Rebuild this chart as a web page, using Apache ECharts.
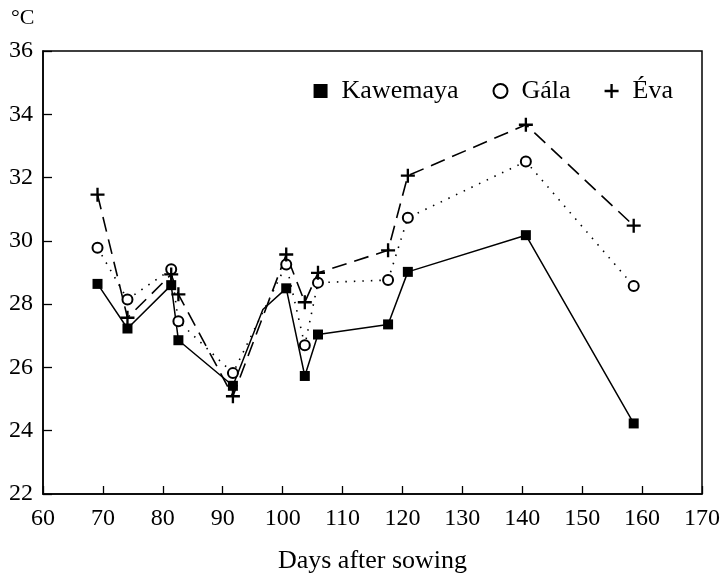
<!DOCTYPE html>
<html>
<head>
<meta charset="utf-8">
<script src="https://cdn.jsdelivr.net/npm/echarts@6/dist/echarts.min.js"></script>
<style>
  html, body { margin: 0; padding: 0; background: #fff; }
  #main { width: 726px; height: 579px; }
</style>
</head>
<body>
<div id="main"></div>
<script>
// days after sowing (shared by the three series)
const days = [69.1, 74.1, 81.4, 82.6, 91.7, 100.6, 103.7, 105.9, 117.6, 120.9, 140.6, 158.6];

// temperature, °C
const kawemaya = [28.64, 27.23, 28.60, 26.86, 25.42, 28.50, 25.73, 27.04, 27.36, 29.02, 30.18, 24.23];
const gala     = [29.78, 28.15, 29.10, 27.46, 25.82, 29.25, 26.70, 28.68, 28.76, 30.73, 32.51, 28.57];
const eva      = [31.46, 27.57, 28.94, 28.31, 25.09, 29.57, 28.06, 28.99, 29.70, 32.06, 33.67, 30.48];

// unmarked bend in the Kawemaya line
const kawemayaBendDay = 96.7;
const kawemayaBend = 27.83;

const seriesNames = ['Kawemaya', 'Gála', 'Éva'];

const plusPath = 'path://M5,0 H7 V5 H12 V7 H7 V12 H5 V7 H0 V5 H5 Z';
const font = '"Liberation Serif", "DejaVu Serif", serif';

function pairs(xs, ys) {
  return xs.map((x, i) => [x, ys[i]]);
}

// put the bend in between the 5th and 6th point
let kawemayaData = pairs(days, kawemaya);
kawemayaData.splice(5, 0, { value: [kawemayaBendDay, kawemayaBend], symbol: 'none' });

var myChart = echarts.init(document.getElementById('main'), null, { renderer: 'canvas' });

var option = {
  animation: false,
  backgroundColor: '#fff',
  textStyle: { fontFamily: font, color: '#000' },
  title: {
    text: '°C',
    left: 6,
    top: 2,
    textStyle: { fontFamily: font, fontSize: 22, fontWeight: 'normal', color: '#000' }
  },
  legend: {
    right: 48,
    top: 73,
    itemWidth: 14,
    itemHeight: 14,
    itemGap: 34,
    textStyle: { fontFamily: font, fontSize: 26, color: '#000', padding: [0, 0, 0, 9] },
    data: [
      { name: seriesNames[0], icon: 'rect' },
      { name: seriesNames[1], icon: 'emptyCircle' },
      { name: seriesNames[2], icon: plusPath }
    ]
  },
  grid: {
    left: 43,
    right: 24,
    top: 51,
    bottom: 84,
    show: true,
    borderColor: '#000',
    borderWidth: 1.5,
    containLabel: false
  },
  xAxis: {
    type: 'value',
    min: 60,
    max: 170,
    interval: 10,
    name: 'Days after sowing',
    nameLocation: 'middle',
    nameGap: 54,
    nameTextStyle: { fontFamily: font, fontSize: 26, color: '#000' },
    axisLine: { lineStyle: { color: '#000', width: 1.5 } },
    axisTick: { inside: true, length: 8, lineStyle: { color: '#000', width: 1.3 } },
    axisLabel: { fontFamily: font, fontSize: 24, color: '#000', margin: 13 },
    splitLine: { show: false }
  },
  yAxis: {
    type: 'value',
    min: 22,
    max: 36,
    interval: 2,
    axisLine: { show: true, lineStyle: { color: '#000', width: 1.5 } },
    axisTick: { show: true, inside: true, length: 9, lineStyle: { color: '#000', width: 1.3 } },
    axisLabel: { fontFamily: font, fontSize: 24, color: '#000', margin: 10 },
    splitLine: { show: false }
  },
  series: [
    {
      name: seriesNames[0],
      type: 'line',
      data: kawemayaData,
      symbol: 'rect',
      symbolSize: 10,
      itemStyle: { color: '#000' },
      lineStyle: { color: '#000', width: 1.5, type: 'solid' }
    },
    {
      name: seriesNames[1],
      type: 'line',
      data: pairs(days, gala),
      symbol: 'emptyCircle',
      symbolSize: 10,
      itemStyle: { color: '#000', borderWidth: 1.6 },
      lineStyle: { color: '#000', width: 1.6, type: [1.5, 7] }
    },
    {
      name: seriesNames[2],
      type: 'line',
      data: pairs(days, eva),
      symbol: plusPath,
      symbolSize: 14,
      itemStyle: { color: '#000' },
      lineStyle: { color: '#000', width: 1.6, type: [15, 8] }
    }
  ]
};

myChart.setOption(option);
</script>
</body>
</html>
